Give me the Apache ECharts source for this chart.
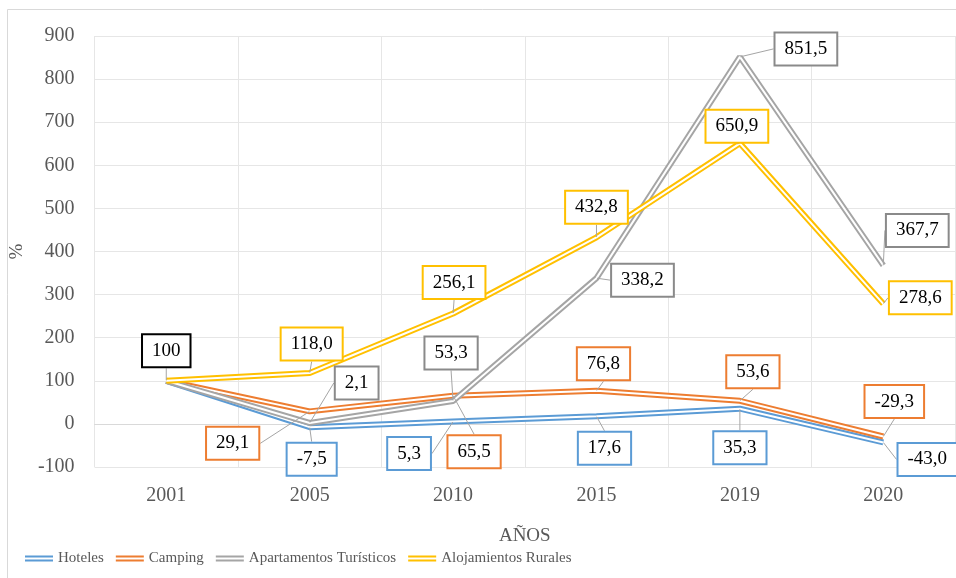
<!DOCTYPE html>
<html>
<head>
<meta charset="utf-8">
<script src="https://cdn.jsdelivr.net/npm/echarts@6/dist/echarts.min.js"></script>
<style>
html, body { margin: 0; padding: 0; background: #fff; }
#chart { width: 956px; height: 578px; }
</style>
</head>
<body>
<div id="chart"></div>
<script>
// categorias y valores (indice 2001 = 100)
var years = ['2001', '2005', '2010', '2015', '2019', '2020'];
var hoteles = [100, -7.5, 5.3, 17.6, 35.3, -43.0];
var camping = [100, 29.1, 65.5, 76.8, 53.6, -29.3];
var apartamentos = [100, 2.1, 53.3, 338.2, 851.5, 367.7];
var alojamientos = [100, 118.0, 256.1, 432.8, 650.9, 278.6];
var yTicks = [-100, 0, 100, 200, 300, 400, 500, 600, 700, 800, 900];

var FONT = 'Liberation Serif';

// desplazamiento de cada etiqueta respecto a su punto (dx, dy)
var labelShift = {
    'Hoteles': [null, [2, 32], [-44, 32], [8, 32], [0, 39], [44, 17]],
    'Camping': [null, [-77, 32], [21, 56], [7, -27], [13, -29], [11, -35]],
    'Apartamentos Turísticos': [null, [47, -40], [-2, -48], [46, 2], [66, -8], [34, -35]],
    'Alojamientos Rurales': [[0, -30], [2, -29], [1, -31], [0, -30], [-3, -17], [37, -6]]
};

var lines = [
    { name: 'Hoteles', data: hoteles, color: '#5b9bd5', border: '#5b9bd5' },
    { name: 'Camping', data: camping, color: '#ed7d31', border: '#ed7d31' },
    { name: 'Apartamentos Turísticos', data: apartamentos, color: '#a5a5a5', border: '#8a8a8a' },
    { name: 'Alojamientos Rurales', data: alojamientos, color: '#ffc000', border: '#ffc000' }
];

function fmt(v, i) {
    if (i === 0) return '100';
    return v.toFixed(1).replace('.', ',');
}

var series = [];
lines.forEach(function (l) {
    // linea doble: trazo de color con linea blanca encima
    series.push({
        name: l.name,
        type: 'line',
        data: l.data,
        symbol: 'none',
        z: 2,
        color: l.color,
        lineStyle: { color: l.color, width: 6 },
        silent: true
    });
    series.push({
        name: l.name + ' (in)',
        type: 'line',
        data: l.data,
        symbol: 'none',
        z: 2,
        lineStyle: { color: '#ffffff', width: 2 },
        silent: true
    });
});

lines.forEach(function (l) {
    var shifts = labelShift[l.name];
    var items = l.data.map(function (v, i) {
        var item = { value: v };
        if (!shifts[i]) {
            item.label = { show: false };
        } else if (i === 0) {
            item.label = { borderColor: '#000000' };
        }
        return item;
    });
    series.push({
        name: l.name + ' (lbl)',
        type: 'line',
        data: items,
        symbol: 'circle',
        symbolSize: 1,
        itemStyle: { color: 'rgba(0,0,0,0)' },
        lineStyle: { width: 0, color: 'rgba(0,0,0,0)' },
        z: 5,
        silent: true,
        label: {
            show: true,
            position: 'inside',
            formatter: function (p) { return fmt(p.value, p.dataIndex); },
            fontFamily: FONT,
            fontSize: 19,
            color: '#000000',
            backgroundColor: '#ffffff',
            borderColor: l.border,
            borderWidth: 2,
            padding: [7, 9, 5, 9]
        },
        labelLine: {
            show: true,
            lineStyle: { color: '#a5a5a5', width: 1 }
        },
        labelLayout: function (p) {
            var s = shifts[p.dataIndex];
            if (!s) return {};
            return { dx: s[0], dy: s[1] };
        }
    });
});

var chart = echarts.init(document.getElementById('chart'));
chart.setOption({
    animation: false,
    backgroundColor: '#ffffff',
    textStyle: { fontFamily: FONT },
    graphic: [{
        type: 'rect',
        shape: { x: 7.5, y: 9.5, width: 960, height: 580 },
        style: { fill: 'none', stroke: '#d9d9d9', lineWidth: 1 },
        silent: true
    }],
    grid: { left: 90, right: 1, top: 36, bottom: 111 },
    legend: {
        data: lines.map(function (l) { return l.name; }),
        top: 546,
        left: 20,
        icon: 'path://M0,0H28V2H0Z M0,4H28V6H0Z',
        itemWidth: 28,
        itemHeight: 6,
        itemGap: 12,
        textStyle: { fontFamily: FONT, fontSize: 15, color: '#595959' }
    },
    xAxis: {
        type: 'category',
        data: years,
        boundaryGap: true,
        name: 'AÑOS',
        nameLocation: 'middle',
        nameGap: 60,
        nameTextStyle: { fontFamily: FONT, fontSize: 19, color: '#595959' },
        axisLine: { show: true, lineStyle: { color: '#d9d9d9' } },
        axisTick: { show: false },
        axisLabel: { fontFamily: FONT, fontSize: 20, color: '#595959', margin: 19 },
        splitLine: { show: true, lineStyle: { color: '#e6e6e6' } }
    },
    yAxis: {
        type: 'value',
        min: yTicks[0],
        max: yTicks[yTicks.length - 1],
        interval: 100,
        name: '%',
        nameLocation: 'middle',
        nameGap: 66,
        nameTextStyle: { fontFamily: FONT, fontSize: 19, color: '#595959' },
        axisLine: { show: false },
        axisTick: { show: false },
        axisLabel: { fontFamily: FONT, fontSize: 20, color: '#595959', margin: 20 },
        splitLine: { show: true, lineStyle: { color: '#e6e6e6' } }
    },
    series: series
});
</script>
</body>
</html>
